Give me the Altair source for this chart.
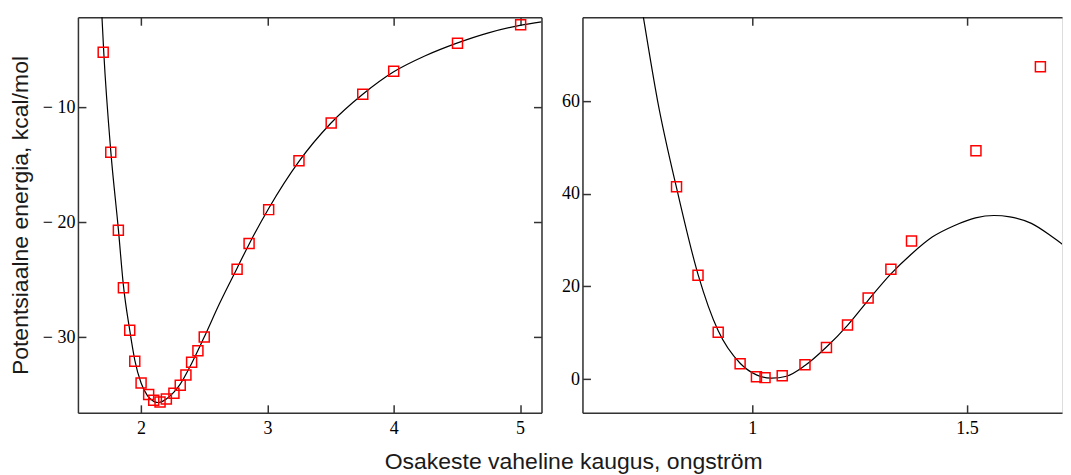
import altair as alt
import pandas as pd

# ---- left panel: measured points ----
left_x = [1.70, 1.76, 1.82, 1.86, 1.91, 1.95, 2.00, 2.06, 2.10, 2.15, 2.20, 2.26, 2.31,
          2.355, 2.40, 2.45, 2.50, 2.76, 2.855, 3.01, 3.25, 3.505, 3.755, 4.00, 4.505, 5.005]
left_y = [-5.2, -13.9, -20.7, -25.7, -29.4, -32.1, -34.0, -35.0, -35.5, -35.65, -35.4, -34.9, -34.2,
          -33.3, -32.2, -31.2, -30.0, -24.1, -21.85, -18.9, -14.65, -11.35, -8.85, -6.85, -4.4, -2.8]
# ---- left panel: fitted curve ----
left_cx = [1.685, 1.705, 1.76, 1.82, 1.86, 1.91, 1.95, 2.00, 2.05, 2.10, 2.13, 2.16, 2.20, 2.26,
           2.31, 2.40, 2.50, 2.62, 2.76, 2.86, 3.01, 3.25, 3.50, 3.75, 4.00, 4.25, 4.50, 4.75, 5.00, 5.17]
left_cy = [-1.0, -5.3, -13.8, -20.6, -25.5, -29.4, -32.0, -34.0, -35.1, -35.6, -35.7, -35.65, -35.4, -34.8,
           -34.1, -32.3, -30.0, -27.1, -24.0, -21.8, -18.8, -14.7, -11.4, -8.9, -6.9, -5.5, -4.4, -3.5, -2.85, -2.55]

# ---- right panel: measured points ----
right_x = [0.824, 0.874, 0.921, 0.972, 1.010, 1.030, 1.070, 1.123, 1.173, 1.222, 1.270, 1.323, 1.371, 1.521, 1.671]
right_y = [41.5, 22.4, 10.1, 3.3, 0.5, 0.3, 0.7, 3.1, 6.8, 11.65, 17.5, 23.7, 29.8, 49.3, 67.4]
# ---- right panel: fitted curve ----
right_cx = [0.740, 0.747, 0.780, 0.826, 0.874, 0.921, 0.972, 1.010, 1.045, 1.080, 1.123, 1.173, 1.222,
            1.270, 1.323, 1.371, 1.420, 1.470, 1.520, 1.563, 1.600, 1.650, 1.700, 1.745]
right_cy = [82, 78, 60, 40.5, 22.6, 10.4, 3.4, 0.9, 0.2, 0.6, 2.9, 6.9, 11.6,
            17.0, 22.7, 27.0, 30.7, 33.1, 34.8, 35.3, 35.0, 33.6, 30.6, 27.5]

left_xticks = [2, 3, 4, 5]
left_yticks = [-10, -20, -30]
right_xticks = [1, 1.5]
right_yticks = [0, 20, 40, 60]

AXC = "#333333"
LABEL = dict(labelFont="Liberation Serif", labelFontSize=18, labelColor="#000000", labelFlush=False,
             labelOverlap=False, format="~f")


def ax(orient, values=None, labels=False, ticks=False, domain=False, **kw):
    opts = dict(orient=orient, grid=False, labels=labels, ticks=ticks, domain=domain,
                domainColor=AXC, domainWidth=1.5, tickColor=AXC, tickWidth=1.5, title=None)
    if values is not None:
        opts["values"] = values
    if ticks:
        opts.update(tickSize=8, offset=-8)
    else:
        opts.update(tickSize=0)
    opts.update(LABEL)
    opts.update(kw)
    return alt.Axis(**opts)


def panel(pts, curve, xdom, ydom, xt, yt, w, h, ytitle, ylabel_expr, right_side):
    xs = alt.Scale(domain=xdom, nice=False, zero=False)
    ys = alt.Scale(domain=ydom, nice=False, zero=False)
    ykw = dict(labelPadding=3)
    if ylabel_expr:
        ykw["labelExpr"] = ylabel_expr
    if ytitle:
        ykw.update(title=ytitle, titleFont="Liberation Sans", titleFontSize=23, titleFontWeight="normal",
                   titleColor="#1a1a1a", titlePadding=10)
    line = alt.Chart(curve).mark_line(color="black", strokeWidth=1.2, clip=True, interpolate="monotone").encode(
        x=alt.X("x:Q", scale=xs, axis=ax("bottom", xt, labels=True, domain=True, labelPadding=7)),
        y=alt.Y("y:Q", scale=ys, axis=ax("left", yt, labels=True, domain=True, **ykw)),
    )
    points = alt.Chart(pts).mark_point(shape="square", filled=False, color="#ff0000", size=100,
                                       strokeWidth=1.5, opacity=1).encode(
        x=alt.X("x:Q", scale=xs, axis=ax("top", xt, domain=True)),
        y=alt.Y("y:Q", scale=ys, axis=ax("right", yt, domain=True) if right_side else None),
    )
    t1 = alt.Chart(pts).mark_point(opacity=0, size=1).encode(
        x=alt.X("x:Q", scale=xs, axis=ax("bottom", xt, ticks=True)),
        y=alt.Y("y:Q", scale=ys, axis=ax("left", yt, ticks=True)),
    )
    t2 = alt.Chart(pts).mark_point(opacity=0, size=1).encode(
        x=alt.X("x:Q", scale=xs, axis=ax("top", xt, ticks=True)),
        y=alt.Y("y:Q", scale=ys, axis=ax("right", yt, ticks=True) if right_side else None),
    )
    return alt.layer(line, points, t1, t2).resolve_axis(x="independent", y="independent").properties(
        width=w, height=h)


left = panel(pd.DataFrame({"x": left_x, "y": left_y}), pd.DataFrame({"x": left_cx, "y": left_cy}),
             [1.5, 5.17], [-36.6, -2.14], left_xticks, left_yticks, 464, 396,
             "Potentsiaalne energia, kcal/mol",
             "datum.value < 0 ? '\u2212 ' + abs(datum.value) : datum.label", True)
right = panel(pd.DataFrame({"x": right_x, "y": right_y}), pd.DataFrame({"x": right_cx, "y": right_cy}),
              [0.605, 1.7213], [-7.3, 78.1], right_xticks, right_yticks, 480, 396,
              None, None, False)

chart = alt.hconcat(left, right, spacing=17).properties(
    title=alt.TitleParams("Osakeste vaheline kaugus, ongstr\u00f6m", orient="bottom", anchor="middle",
                          font="Liberation Sans", fontSize=23, fontWeight="normal", color="#1a1a1a",
                          offset=13, dx=38),
    padding={"left": 0, "top": 7, "right": 0, "bottom": 0},
).configure_view(stroke=None).configure(background="white")

chart.save("out.html", embed_options={"renderer": "svg", "actions": False})
